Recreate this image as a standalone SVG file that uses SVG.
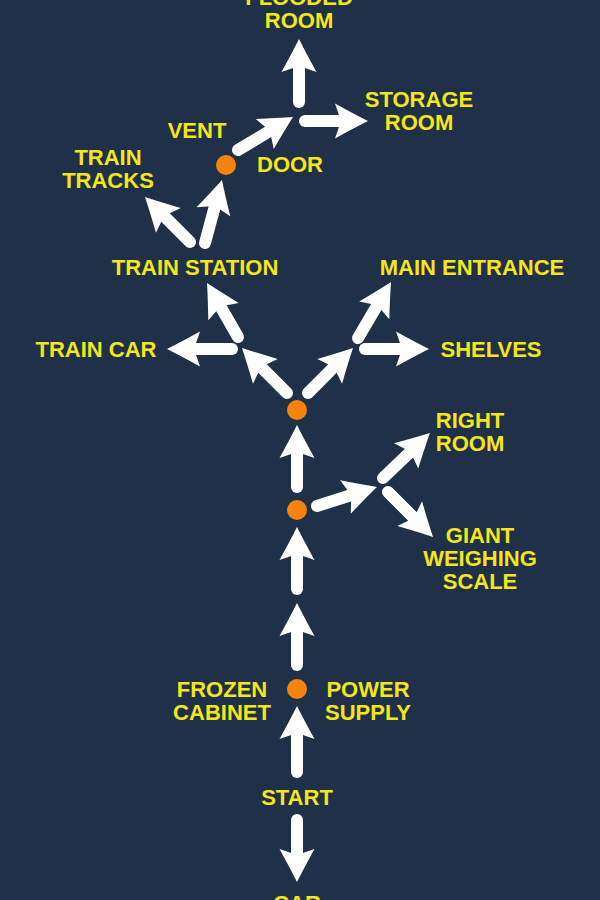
<svg xmlns="http://www.w3.org/2000/svg" width="600" height="900" viewBox="0 0 600 900">
<style>
.lbl{font-family:"Liberation Sans",Arial,sans-serif;font-weight:bold;font-size:22px;fill:#f6e51d;text-anchor:middle}
.arr{stroke:#ffffff;stroke-width:12;stroke-linecap:round;fill:none;marker-end:url(#head)}
.dot{fill:#f5840f}
</style>
<defs>
<marker id="head" markerUnits="userSpaceOnUse" viewBox="-20 -20 40 40" markerWidth="40" markerHeight="40" refX="0" refY="0" orient="auto" overflow="visible">
<path d="M16,0 Q2,-7 -17,-17.5 L-11,0 L-17,17.5 Q2,7 16,0 Z" fill="#ffffff"/>
</marker>
</defs>
<rect width="600" height="900" fill="#1e3148"/>
<g id="connectors">
<line class="arr" x1="297" y1="820" x2="297" y2="866"/>
<line class="arr" x1="297" y1="772" x2="297" y2="722"/>
<line class="arr" x1="297" y1="665" x2="297" y2="619"/>
<line class="arr" x1="297" y1="589" x2="297" y2="543"/>
<line class="arr" x1="297" y1="487" x2="297" y2="441"/>
<line class="arr" x1="317" y1="506" x2="361.7" y2="491.8"/>
<line class="arr" x1="383" y1="478" x2="418.4" y2="444.1"/>
<line class="arr" x1="388" y1="492" x2="421.7" y2="525.7"/>
<line class="arr" x1="287" y1="393" x2="253.3" y2="359.3"/>
<line class="arr" x1="308" y1="393" x2="341.7" y2="359.3"/>
<line class="arr" x1="232" y1="349" x2="183" y2="349"/>
<line class="arr" x1="238" y1="337" x2="215" y2="296.9"/>
<line class="arr" x1="365" y1="349" x2="413" y2="349"/>
<line class="arr" x1="358" y1="338" x2="382.9" y2="295.8"/>
<line class="arr" x1="190" y1="242" x2="156.3" y2="208.3"/>
<line class="arr" x1="205" y1="243" x2="217.8" y2="195.4"/>
<line class="arr" x1="238" y1="150" x2="279.3" y2="125.2"/>
<line class="arr" x1="299" y1="102" x2="299" y2="55"/>
<line class="arr" x1="305" y1="121" x2="352" y2="121"/>
</g>
<g id="junction-power"><circle class="dot" cx="297" cy="689" r="10"/></g>
<g id="junction-mid"><circle class="dot" cx="297" cy="510" r="10"/></g>
<g id="junction-top"><circle class="dot" cx="297" cy="410" r="10"/></g>
<g id="junction-vent"><circle class="dot" cx="226" cy="165" r="10"/></g>
<g id="car"><text class="lbl" x="297" y="911">CAR</text></g>
<g id="start"><text class="lbl" x="297" y="805">START</text></g>
<g id="frozen-cabinet"><text class="lbl" x="222" y="697">FROZEN</text><text class="lbl" x="222" y="720">CABINET</text></g>
<g id="power-supply"><text class="lbl" x="368" y="697">POWER</text><text class="lbl" x="368" y="720">SUPPLY</text></g>
<g id="right-room"><text class="lbl" x="470" y="428">RIGHT</text><text class="lbl" x="470" y="451">ROOM</text></g>
<g id="giant-weighing-scale"><text class="lbl" x="480" y="543">GIANT</text><text class="lbl" x="480" y="566">WEIGHING</text><text class="lbl" x="480" y="589">SCALE</text></g>
<g id="train-car"><text class="lbl" x="96" y="357">TRAIN CAR</text></g>
<g id="shelves"><text class="lbl" x="491" y="357">SHELVES</text></g>
<g id="train-station"><text class="lbl" x="195" y="275">TRAIN STATION</text></g>
<g id="main-entrance"><text class="lbl" x="472" y="275">MAIN ENTRANCE</text></g>
<g id="train-tracks"><text class="lbl" x="108" y="165">TRAIN</text><text class="lbl" x="108" y="188">TRACKS</text></g>
<g id="vent"><text class="lbl" x="197" y="138">VENT</text></g>
<g id="door"><text class="lbl" x="290" y="172">DOOR</text></g>
<g id="storage-room"><text class="lbl" x="419" y="107">STORAGE</text><text class="lbl" x="419" y="130">ROOM</text></g>
<g id="flooded-room"><text class="lbl" x="299" y="5">FLOODED</text><text class="lbl" x="299" y="28">ROOM</text></g>
</svg>
